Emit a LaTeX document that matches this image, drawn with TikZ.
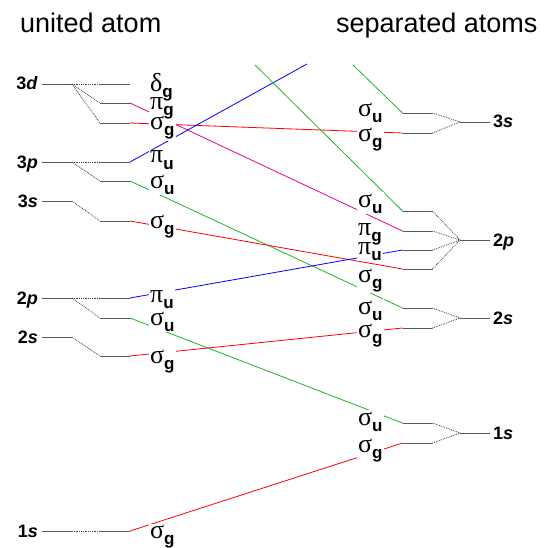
\documentclass[tikz,border=0pt]{standalone}
\usepackage{fontspec}
\setmainfont{Liberation Sans}
\newfontfamily\grk{Liberation Serif}
\usetikzlibrary{positioning}
\definecolor{corrgreen}{HTML}{22B422}
\pgfdeclarelayer{lines}
\pgfdeclarelayer{fills}
\pgfsetlayers{lines,fills,main}
\newcommand\molab[2]{{\grk\fontsize{26}{28}\selectfont #1}\raisebox{-6pt}{\fontsize{17}{18}\selectfont\bfseries #2}}
\newcommand\atlab[2]{\fontsize{18}{20}\selectfont\bfseries #1\textit{#2}}

\begin{document}
\begin{tikzpicture}[x=1pt, y=-1pt,
  lvl/.style={draw, line width=0.9pt, minimum width=30pt, minimum height=0pt,
              inner sep=0pt, outer sep=0pt},
  split/.style={densely dotted, line width=0.8pt, black!75},
  corr/.style={line width=0.8pt},
  mo/.style={inner sep=1pt, anchor=base west},
  atom/.style={inner sep=0pt},
  title/.style={inner sep=0pt, anchor=base west, font=\fontsize{27}{30}\selectfont},
]
\useasboundingbox (0,0) rectangle (544,548);

\node[title] (tua) at (20,33) {united atom};
\node[title] (tsa) at (336,33) {separated atoms};

\node[lvl] (U3d) at (57,84) {};
\node[lvl] (U3p) at (57,162) {};
\node[lvl] (U3s) at (57,201) {};
\node[lvl] (U2p) at (57,298) {};
\node[lvl] (U2s) at (57,337) {};
\node[lvl] (U1s) at (57,531) {};

\node[atom, anchor=base east] (aU3d) at (38,90) {\atlab{3}{d}};
\node[atom, anchor=base east] (aU3p) at (38,168) {\atlab{3}{p}};
\node[atom, anchor=base east] (aU3s) at (38,207) {\atlab{3}{s}};
\node[atom, anchor=base east] (aU2p) at (38,304) {\atlab{2}{p}};
\node[atom, anchor=base east] (aU2s) at (38,343) {\atlab{2}{s}};
\node[atom, anchor=base east] (aU1s) at (38,537) {\atlab{1}{s}};

\node[lvl] (U3d-dg) at (115,84) {};
\node[lvl] (U3d-pg) at (115,103) {};
\node[lvl] (U3d-sg) at (115,123) {};
\node[lvl] (U3p-pu) at (115,162) {};
\node[lvl] (U3p-su) at (115,181) {};
\node[lvl] (U3s-sg) at (115,221) {};
\node[lvl] (U2p-pu) at (115,298) {};
\node[lvl] (U2p-su) at (115,318) {};
\node[lvl] (U2s-sg) at (115,356) {};
\node[lvl] (U1s-sg) at (115,531) {};

\draw[split] (U3d.east) -- (U3d-dg.west);
\draw[split] (U3d.east) -- (U3d-pg.west);
\draw[split] (U3d.east) -- (U3d-sg.west);
\draw[split] (U3p.east) -- (U3p-pu.west);
\draw[split] (U3p.east) -- (U3p-su.west);
\draw[split] (U3s.east) -- (U3s-sg.west);
\draw[split] (U2p.east) -- (U2p-pu.west);
\draw[split] (U2p.east) -- (U2p-su.west);
\draw[split] (U2s.east) -- (U2s-sg.west);
\draw[split] (U1s.east) -- (U1s-sg.west);

\node[lvl] (S3s) at (475,122) {};
\node[lvl] (S2p) at (475,240) {};
\node[lvl] (S2s) at (475,318) {};
\node[lvl] (S1s) at (475,433) {};

\node[atom, anchor=base west] (aS3s) at (493,128) {\atlab{3}{s}};
\node[atom, anchor=base west] (aS2p) at (493,246) {\atlab{2}{p}};
\node[atom, anchor=base west] (aS2s) at (493,324) {\atlab{2}{s}};
\node[atom, anchor=base west] (aS1s) at (493,439) {\atlab{1}{s}};

\node[lvl] (S3s-su) at (417.5,113) {};
\node[lvl] (S3s-sg) at (417.5,133) {};
\node[lvl] (S2p-su) at (417.5,211) {};
\node[lvl] (S2p-pg) at (417.5,231) {};
\node[lvl] (S2p-pu) at (417.5,250) {};
\node[lvl] (S2p-sg) at (417.5,269) {};
\node[lvl] (S2s-su) at (417.5,308) {};
\node[lvl] (S2s-sg) at (417.5,328) {};
\node[lvl] (S1s-su) at (417.5,423) {};
\node[lvl] (S1s-sg) at (417.5,443) {};

\draw[split] (S3s-su.east) -- (S3s.west);
\draw[split] (S3s-sg.east) -- (S3s.west);
\draw[split] (S2p-su.east) -- (S2p.west);
\draw[split] (S2p-pg.east) -- (S2p.west);
\draw[split] (S2p-pu.east) -- (S2p.west);
\draw[split] (S2p-sg.east) -- (S2p.west);
\draw[split] (S2s-su.east) -- (S2s.west);
\draw[split] (S2s-sg.east) -- (S2s.west);
\draw[split] (S1s-su.east) -- (S1s.west);
\draw[split] (S1s-sg.east) -- (S1s.west);

\coordinate (top1) at (307,64);
\coordinate (top2) at (255,65);
\coordinate (top3) at (353,65);

\begin{pgfonlayer}{lines}
\draw[corr, magenta] (U3d-pg.east) -- (S2p-pg.west);
\draw[corr, red] (U3d-sg.east) -- (S3s-sg.west);
\draw[corr, blue] (U3p-pu.east) -- (top1);
\draw[corr, corrgreen] (U3p-su.east) -- (S2s-su.west);
\draw[corr, red] (U3s-sg.east) -- (S2p-sg.west);
\draw[corr, blue] (U2p-pu.east) -- (S2p-pu.west);
\draw[corr, corrgreen] (U2p-su.east) -- (S1s-su.west);
\draw[corr, red] (U2s-sg.east) -- (S2s-sg.west);
\draw[corr, red] (U1s-sg.east) -- (S1s-sg.west);
\draw[corr, corrgreen] (top2) -- (S2p-su.west);
\draw[corr, corrgreen] (top3) -- (S3s-su.west);
\end{pgfonlayer}

\node[mo] (lU3d-dg) at (149,92) {\molab{δ}{g}};
\node[mo] (lU3d-pg) at (149,110) {\molab{π}{g}};
\node[mo] (lU3d-sg) at (149,130) {\molab{σ}{g}};
\node[mo] (lU3p-pu) at (149,163) {\molab{π}{u}};
\node[mo] (lU3p-su) at (149,188) {\molab{σ}{u}};
\node[mo] (lU3s-sg) at (149,228) {\molab{σ}{g}};
\node[mo] (lU2p-pu) at (149,302) {\molab{π}{u}};
\node[mo] (lU2p-su) at (149,325) {\molab{σ}{u}};
\node[mo] (lU2s-sg) at (149,363) {\molab{σ}{g}};
\node[mo] (lU1s-sg) at (149,538) {\molab{σ}{g}};

\node[mo] (lS3s-su) at (357,117) {\molab{σ}{u}};
\node[mo] (lS3s-sg) at (357,142) {\molab{σ}{g}};
\node[mo] (lS2p-su) at (357,207) {\molab{σ}{u}};
\node[mo] (lS2p-pg) at (357,235) {\molab{π}{g}};
\node[mo] (lS2p-pu) at (357,254) {\molab{π}{u}};
\node[mo] (lS2p-sg) at (357,282) {\molab{σ}{g}};
\node[mo] (lS2s-su) at (357,314) {\molab{σ}{u}};
\node[mo] (lS2s-sg) at (357,337) {\molab{σ}{g}};
\node[mo] (lS1s-su) at (357,425) {\molab{σ}{u}};
\node[mo] (lS1s-sg) at (357,452) {\molab{σ}{g}};

\begin{pgfonlayer}{fills}
\foreach \n in {lU3d-dg, lU3d-pg, lU3d-sg, lU3p-pu, lU3p-su, lU3s-sg,
                lU2p-pu, lU2p-su, lU2s-sg, lU1s-sg,
                lS3s-su, lS3s-sg, lS2p-su, lS2p-pg, lS2p-pu, lS2p-sg,
                lS2s-su, lS2s-sg, lS1s-su, lS1s-sg}
  \fill[white] (\n.south west) rectangle (\n.north east);
\end{pgfonlayer}
\end{tikzpicture}
\end{document}
